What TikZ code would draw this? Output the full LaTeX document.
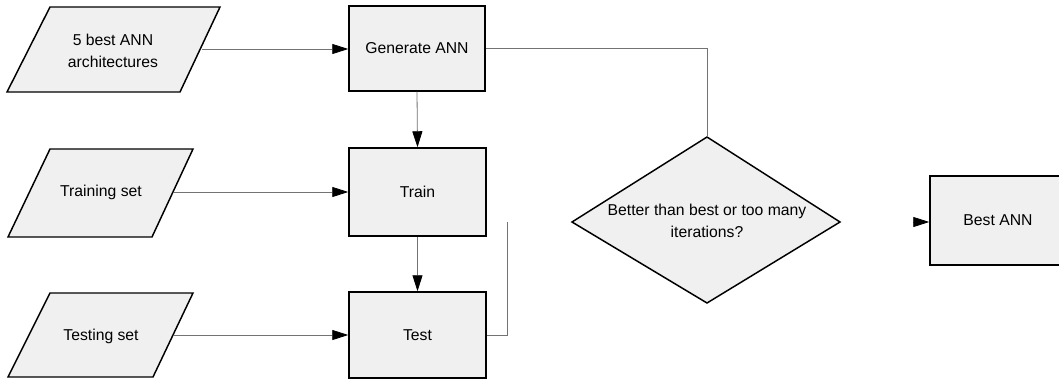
\documentclass[tikz,border=0pt]{standalone}
\usepackage{fontspec}
\setmainfont{Liberation Sans}
\usetikzlibrary{arrows.meta}
\definecolor{shade}{gray}{0.94}
\definecolor{wire}{gray}{0.45}
\tikzset{
  outline/.style={draw=black, line width=1.1pt, fill=shade},
  box/.style={outline, rectangle, inner sep=0pt},
  label/.style={font=\fontsize{11.8}{16.5}\selectfont, align=center, inner sep=0pt},
  flow/.style={draw=wire, line width=0.6pt, -{Triangle[length=12pt,width=7.5pt,color=black]}},
  link/.style={draw=wire, line width=0.6pt},
}
\begin{document}
\begin{tikzpicture}[x=0.75pt, y=-0.75pt]
\clip (0,0) rectangle (1059,379);
\fill[white] (0,0) rectangle (1059,379);

% input data (parallelograms)
\draw[outline] (50,7) -- (220,7) -- (180,92) -- (7,92) -- cycle;
\node[label] (arch) at (113,51) {5 best ANN\\architectures};
\coordinate (archout) at (202,49);

\draw[outline] (50,149) -- (193,149) -- (152,237) -- (8,237) -- cycle;
\node[label] (trainset) at (101,192) {Training set};
\coordinate (trainout) at (174,192);

\draw[outline] (50,293) -- (193,293) -- (153,377) -- (8,377) -- cycle;
\node[label] (testset) at (101,336) {Testing set};
\coordinate (testout) at (174,335);

% process steps
\node[box, minimum width=102pt, minimum height=63.75pt] (gen) at (417,48.5) {};
\node[label] at (gen.center) {Generate ANN};
\node[box, minimum width=102.75pt, minimum height=66pt] (train) at (417.5,192) {};
\node[label] at (train.center) {Train};
\node[box, minimum width=102.75pt, minimum height=64.5pt] (test) at (417.5,335) {};
\node[label] at (test.center) {Test};

% decision
\coordinate (dtop) at (707,137);
\draw[outline] (dtop) -- (840,222) -- (707,303) -- (572,222) -- cycle;
\node[label] (decide) at (707,221) {Better than best or too many\\iterations?};

% result
\node[box, minimum width=102pt, minimum height=66.75pt] (best) at (998,220.5) {};
\node[label] at (best.center) {Best ANN};

% connectors
\draw[flow] (archout) -- (archout -| gen.west);
\draw[flow] (trainout) -- (trainout -| train.west);
\draw[flow] (testout) -- (testout -| test.west);
\draw[flow] (gen.south) -- (train.north);
\draw[flow] (train.south) -- (test.north);
\draw[link] (gen.east) -| (dtop);
\coordinate (loopend) at (507,222);
\draw[link] (test.east) -| (loopend);
\coordinate (bestin) at (914,222);
\draw[flow] (bestin) -- (bestin -| best.west);
\end{tikzpicture}
\end{document}
